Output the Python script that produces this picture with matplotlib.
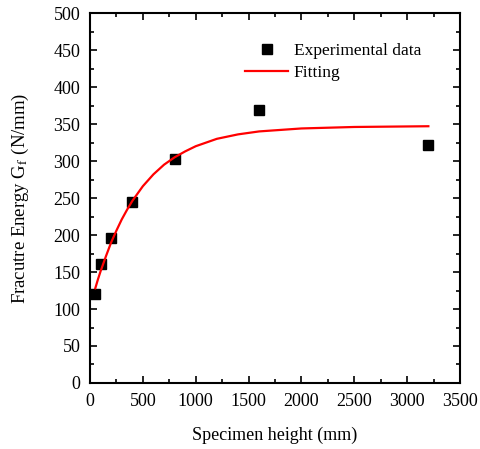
import matplotlib
matplotlib.use("Agg")
import matplotlib.pyplot as plt
from matplotlib.ticker import MultipleLocator

plt.rcParams['font.family'] = ['Liberation Serif', 'DejaVu Serif']
plt.rcParams['mathtext.fontset'] = 'stix'

# measured points
height = [50, 100, 200, 400, 800, 1600, 3200]
energy = [120, 161, 196, 245, 303, 369, 322]

# fitted curve
fit_x = [50, 75, 100, 150, 200, 250, 300, 350, 400, 450, 500, 600, 700, 800, 900, 1000,
         1200, 1400, 1600, 1800, 2000, 2500, 3200]
fit_y = [128, 140, 151, 171, 190, 206, 221, 234, 246, 256, 266, 282, 295, 305, 313, 320,
         330, 336, 340, 342, 344, 346, 347]

fig = plt.figure(figsize=(4.8, 4.49), dpi=100)
ax = fig.add_axes([0.1875, 0.147, 0.771, 0.824])

ax.plot(height, energy, 's', color='black', markersize=7, label='Experimental data')
ax.plot(fit_x, fit_y, '-', color='red', linewidth=1.6, label='Fitting')

ax.set_xlim(0, 3500)
ax.set_ylim(0, 500)
ax.xaxis.set_major_locator(MultipleLocator(500))
ax.xaxis.set_minor_locator(MultipleLocator(250))
ax.yaxis.set_major_locator(MultipleLocator(50))
ax.yaxis.set_minor_locator(MultipleLocator(25))
ax.tick_params(which='both', direction='in', top=True, right=True, labelsize=13, width=1.2)
ax.tick_params(which='major', length=5, pad=7)
ax.tick_params(which='minor', length=3)
for s in ax.spines.values():
    s.set_linewidth(1.5)

ax.set_xlabel('Specimen height (mm)', fontsize=13, labelpad=12)
ax.set_ylabel('Fracutre Energy G$_\\mathrm{f}$ (N/mm)', fontsize=13.5, labelpad=16)

ax.legend(loc='upper left', bbox_to_anchor=(0.40, 0.937), frameon=False, fontsize=12.5,
          handlelength=2.5, handletextpad=0.3, labelspacing=0.3, borderaxespad=0)

fig.savefig('out.png', dpi=100)
